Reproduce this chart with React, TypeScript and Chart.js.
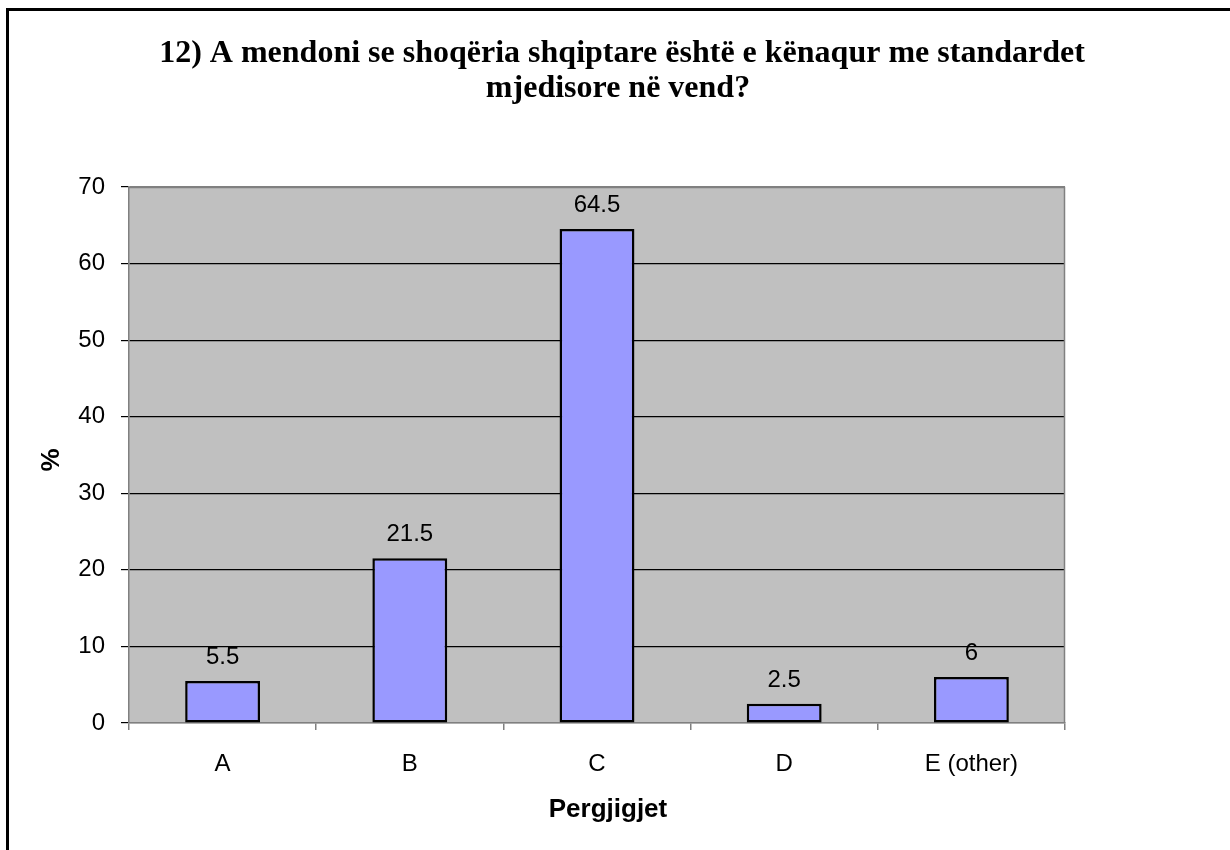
import React, { useEffect, useRef } from "react";
import { Chart, registerables } from "chart.js";

Chart.register(...registerables);

const titleLines = [
  "12) A mendoni se shoqëria shqiptare është e kënaqur me standardet",
  "mjedisore në vend?",
];
const categories = ["A", "B", "C", "D", "E (other)"];
const values = [5.5, 21.5, 64.5, 2.5, 6];
const yTitle = "%";
const xTitle = "Pergjigjet";
const yMax = 70;
const yStep = 10;

const W = 1230;
const H = 850;
const AREA = { left: 129, right: 1065, top: 187, bottom: 723 };

const decorPlugin = {
  id: "decor",
  beforeDraw(chart: any) {
    const { ctx, chartArea } = chart;
    ctx.save();
    ctx.fillStyle = "#C0C0C0";
    ctx.fillRect(chartArea.left, chartArea.top, chartArea.right - chartArea.left, chartArea.bottom - chartArea.top);
    ctx.restore();
  },
  afterDatasetsDraw(chart: any) {
    const { ctx, chartArea } = chart;
    ctx.save();
    // plot border (right & top)
    ctx.strokeStyle = "#808080";
    ctx.lineWidth = 1.5;
    ctx.beginPath();
    ctx.moveTo(chartArea.left, chartArea.top + 0.5);
    ctx.lineTo(chartArea.right - 0.5, chartArea.top + 0.5);
    ctx.lineTo(chartArea.right - 0.5, chartArea.bottom);
    ctx.stroke();

    // value labels
    const meta = chart.getDatasetMeta(0);
    ctx.fillStyle = "#000";
    ctx.font = "24px 'Liberation Sans', Arial, sans-serif";
    ctx.textAlign = "center";
    ctx.textBaseline = "alphabetic";
    meta.data.forEach((bar: any, i: number) => {
      ctx.fillText(String(values[i]), bar.x, bar.y - 17);
    });

    // chart title
    ctx.font = "bold 32px 'Liberation Serif', 'Times New Roman', serif";
    ctx.fillText(titleLines[0], 622, 62);
    ctx.fillText(titleLines[1], 618, 97);

    // axis titles
    ctx.font = "bold 26px 'Liberation Sans', Arial, sans-serif";
    ctx.fillText(xTitle, 608, 817);
    ctx.save();
    ctx.translate(59, (chartArea.top + chartArea.bottom) / 2 + 5);
    ctx.rotate(-Math.PI / 2);
    ctx.fillText(yTitle, 0, 0);
    ctx.restore();
    ctx.restore();
  },
};

export default function App() {
  const ref = useRef<HTMLCanvasElement | null>(null);
  useEffect(() => {
    if (!ref.current) return;
    const chart = new Chart(ref.current, {
      type: "bar",
      data: {
        labels: categories,
        datasets: [
          {
            data: values,
            backgroundColor: "#9999FF",
            borderColor: "#000000",
            borderWidth: 2.5,
            borderSkipped: false,
            categoryPercentage: 1,
            barPercentage: 0.4,
          },
        ],
      },
      options: {
        animation: false,
        responsive: false,
        events: [],
        layout: { padding: { top: AREA.top, right: W - AREA.right, left: 0, bottom: 0 } },
        plugins: { legend: { display: false }, title: { display: false }, tooltip: { enabled: false } },
        scales: {
          x: {
            afterFit: (s: any) => { s.height = H - AREA.bottom; },
            grid: {
              offset: true,
              drawOnChartArea: false,
              drawTicks: true,
              tickLength: 7,
              color: "#808080",
              lineWidth: 1.5,
            },
            border: { display: true, color: "#808080", width: 1.5 },
            ticks: {
              color: "#000",
              padding: 20,
              font: { family: "'Liberation Sans', Arial, sans-serif", size: 24 },
            },
          },
          y: {
            min: 0,
            max: yMax,
            afterFit: (s: any) => { s.width = AREA.left; },
            grid: {
              color: (c: any) => (c.tick && (c.tick.value === 0 || c.tick.value === yMax) ? "#808080" : "#000000"),
              tickColor: "#000",
              tickLength: 8,
              lineWidth: 1.2,
            },
            border: { display: true, color: "#808080", width: 1.5 },
            ticks: {
              stepSize: yStep,
              color: "#000",
              padding: 16,
              font: { family: "'Liberation Sans', Arial, sans-serif", size: 24 },
            },
          },
        },
      },
      plugins: [decorPlugin],
    });
    return () => chart.destroy();
  }, []);

  return (
    <div style={{ position: "absolute", left: 0, top: 0, width: W, height: H, overflow: "hidden", background: "#fff" }}>
      <div
        style={{
          position: "absolute",
          left: 6,
          top: 8,
          width: W + 20,
          height: H + 20,
          border: "3px solid #000",
          boxSizing: "border-box",
        }}
      />
      <canvas ref={ref} width={W} height={H} style={{ position: "absolute", left: 0, top: 0, display: "block" }} />
    </div>
  );
}
